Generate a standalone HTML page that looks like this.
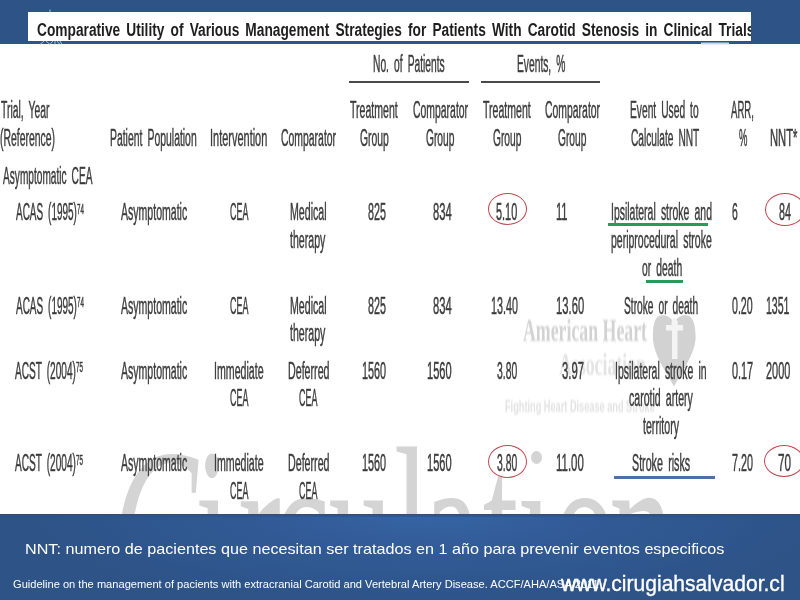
<!DOCTYPE html>
<html><head><meta charset="utf-8"><style>
html,body{margin:0;padding:0}
body{width:800px;height:600px;position:relative;overflow:hidden;background:#fff;font-family:"Liberation Sans",sans-serif}
.t{position:absolute;white-space:nowrap;line-height:1;color:#3c3c3c;transform-origin:0 0}
sup{font-size:0.62em;vertical-align:0;position:relative;top:-0.46em;margin-left:0.03em}
#topband{position:absolute;left:0;top:0;width:800px;height:44px;background:#2d5387}
#titlebox{position:absolute;left:28px;top:12px;width:723px;height:29px;background:#fff;overflow:hidden}
#title{position:absolute;white-space:nowrap;line-height:1;font-weight:bold;color:#1e1e1e;transform-origin:0 0}
.hl{position:absolute;height:2px;background:#4a4a4a}
#botband{position:absolute;left:0;top:514px;width:800px;height:86px;background:radial-gradient(ellipse 400px 95px at 430px 0px,#3664a4 0%,#315a95 45%,#2d5387 100%)}
.w{position:absolute;white-space:nowrap;line-height:1;color:#fff;transform-origin:0 0}
.ul{position:absolute;height:3px}
.ell{position:absolute;border:1.3px solid #c4474f;border-radius:50%;box-sizing:border-box}
.wm{position:absolute;white-space:nowrap;line-height:1;transform-origin:0 0}
</style></head><body>
<div class="wm" style="left:112px;top:413px;font-family:'Liberation Serif';font-style:italic;font-size:232px;color:#d4d4d4;transform:scaleX(0.552);filter:blur(0.6px)">C</div>
<div class="wm" style="left:195px;top:413px;font-family:'Liberation Serif';font-size:232px;color:#d4d4d4;transform:scaleX(0.552);filter:blur(0.6px)">i<span style="position:relative;left:14px">r</span>c<span style="position:relative;left:-3px">u</span>l<span style="position:relative;left:-12px">a</span><span style="position:relative;left:-7px">t</span><span style="position:relative;left:-9px">ı</span><span style="position:relative;left:-9px">o</span><span style="position:relative;left:-22px">n</span></div>
<div style="position:absolute;left:531px;top:451px;width:11px;height:13px;border-radius:50%;background:#d4d4d4;filter:blur(0.6px)"></div>
<div class="wm" style="left:523px;top:314px;font-family:'Liberation Serif';font-weight:bold;font-size:32px;color:#d2d2d2;transform:scaleX(0.556);filter:blur(0.8px)">American Heart</div>
<div class="wm" style="left:559px;top:348px;font-family:'Liberation Serif';font-weight:bold;font-size:32px;color:#e3e3e3;transform:scaleX(0.556);filter:blur(0.9px)">Association</div>
<div class="wm" style="left:504.5px;top:398px;font-family:'Liberation Sans';font-weight:bold;font-size:17px;color:#e2e2e2;transform:scaleX(0.541);filter:blur(0.9px)">Fighting Heart Disease and Stroke</div>
<svg style="position:absolute;left:0;top:0;filter:blur(0.5px)" width="800" height="600" viewBox="0 0 800 600">
<path d="M674,323 C671,316.5 664,314 659,316 C654,318.5 652.5,328 653,340 C654,354 664,369 674,386.5 C684,369 694,354 695.5,340 C696,328 694,318.5 689,316 C684,314 677,316.5 674,323 Z" fill="#d2d2d2"/>
<rect x="666" y="325" width="17" height="5.5" fill="#f4f4f4"/>
<rect x="672" y="330" width="5.5" height="29" fill="#f4f4f4"/>
<path d="M674.5,317.5 C671.5,320 671,323 672,325 L677.5,325 C678.5,322.5 677.5,320 674.5,317.5 Z" fill="#f4f4f4"/>
</svg>

<div id="topband"></div>
<div id="titlebox"><div id="title" style="left:8.70px;top:9.30px;font-size:18px;transform:scaleX(0.7631);word-spacing:3px">Comparative Utility of Various Management Strategies for Patients With Carotid Stenosis in Clinical Trials</div></div>
<div class="hl" style="left:349px;top:81px;width:120px"></div>
<div class="hl" style="left:481px;top:81px;width:119px"></div>
<div id="tbl" style="position:absolute;left:0;top:0;width:800px;height:600px;filter:blur(0.35px)">
<div class="t" style="left:373.16px;top:52.99px;font-size:23.3px;transform:scaleX(0.4407);-webkit-text-stroke:0.5px #3c3c3c;word-spacing:5px">No. of Patients</div>
<div class="t" style="left:516.56px;top:52.99px;font-size:23.3px;transform:scaleX(0.4404);-webkit-text-stroke:0.5px #3c3c3c;word-spacing:5px">Events, %</div>
<div class="t" style="left:0.80px;top:99.00px;font-size:23.3px;transform:scaleX(0.4445);-webkit-text-stroke:0.5px #3c3c3c;word-spacing:5px">Trial, Year</div>
<div class="t" style="left:0.00px;top:126.69px;font-size:23.3px;transform:scaleX(0.4472);-webkit-text-stroke:0.5px #3c3c3c;word-spacing:5px">(Reference)</div>
<div class="t" style="left:110.05px;top:126.69px;font-size:23.3px;transform:scaleX(0.4466);-webkit-text-stroke:0.5px #3c3c3c;word-spacing:5px">Patient Population</div>
<div class="t" style="left:210.03px;top:126.69px;font-size:23.3px;transform:scaleX(0.4708);-webkit-text-stroke:0.5px #3c3c3c;word-spacing:5px">Intervention</div>
<div class="t" style="left:280.50px;top:126.69px;font-size:23.3px;transform:scaleX(0.4476);-webkit-text-stroke:0.5px #3c3c3c;word-spacing:5px">Comparator</div>
<div class="t" style="left:350.00px;top:99.00px;font-size:23.3px;transform:scaleX(0.4528);-webkit-text-stroke:0.5px #3c3c3c;word-spacing:5px">Treatment</div>
<div class="t" style="left:360.00px;top:126.69px;font-size:23.3px;transform:scaleX(0.4462);-webkit-text-stroke:0.5px #3c3c3c;word-spacing:5px">Group</div>
<div class="t" style="left:412.50px;top:99.00px;font-size:23.3px;transform:scaleX(0.4476);-webkit-text-stroke:0.5px #3c3c3c;word-spacing:5px">Comparator</div>
<div class="t" style="left:426.00px;top:126.69px;font-size:23.3px;transform:scaleX(0.4385);-webkit-text-stroke:0.5px #3c3c3c;word-spacing:5px">Group</div>
<div class="t" style="left:482.50px;top:99.00px;font-size:23.3px;transform:scaleX(0.4528);-webkit-text-stroke:0.5px #3c3c3c;word-spacing:5px">Treatment</div>
<div class="t" style="left:492.50px;top:126.69px;font-size:23.3px;transform:scaleX(0.4385);-webkit-text-stroke:0.5px #3c3c3c;word-spacing:5px">Group</div>
<div class="t" style="left:544.50px;top:99.00px;font-size:23.3px;transform:scaleX(0.4476);-webkit-text-stroke:0.5px #3c3c3c;word-spacing:5px">Comparator</div>
<div class="t" style="left:558.00px;top:126.69px;font-size:23.3px;transform:scaleX(0.4385);-webkit-text-stroke:0.5px #3c3c3c;word-spacing:5px">Group</div>
<div class="t" style="left:630.06px;top:99.00px;font-size:23.3px;transform:scaleX(0.4391);-webkit-text-stroke:0.5px #3c3c3c;word-spacing:5px">Event Used to</div>
<div class="t" style="left:630.50px;top:126.69px;font-size:23.3px;transform:scaleX(0.4363);-webkit-text-stroke:0.5px #3c3c3c;word-spacing:5px">Calculate NNT</div>
<div class="t" style="left:731.41px;top:99.00px;font-size:23.3px;transform:scaleX(0.4107);-webkit-text-stroke:0.5px #3c3c3c;word-spacing:5px">ARR,</div>
<div class="t" style="left:739.00px;top:126.69px;font-size:23.3px;transform:scaleX(0.4048);-webkit-text-stroke:0.5px #3c3c3c;word-spacing:5px">%</div>
<div class="t" style="left:770.02px;top:126.69px;font-size:23.3px;transform:scaleX(0.4821);-webkit-text-stroke:0.5px #3c3c3c;word-spacing:5px">NNT*</div>
<div class="t" style="left:2.93px;top:164.69px;font-size:23.3px;transform:scaleX(0.4348);-webkit-text-stroke:0.5px #3c3c3c;word-spacing:5px">Asymptomatic CEA</div>
<div class="t" style="left:15.93px;top:201.19px;font-size:23.3px;transform:scaleX(0.4281);-webkit-text-stroke:0.5px #3c3c3c;word-spacing:5px">ACAS (1995)<sup>74</sup></div>
<div class="t" style="left:121.45px;top:201.19px;font-size:23.3px;transform:scaleX(0.4527);-webkit-text-stroke:0.5px #3c3c3c;word-spacing:5px">Asymptomatic</div>
<div class="t" style="left:230.00px;top:201.19px;font-size:23.3px;transform:scaleX(0.3827);-webkit-text-stroke:0.5px #3c3c3c;word-spacing:5px">CEA</div>
<div class="t" style="left:289.54px;top:201.19px;font-size:23.3px;transform:scaleX(0.4557);-webkit-text-stroke:0.5px #3c3c3c;word-spacing:5px">Medical</div>
<div class="t" style="left:290.00px;top:228.89px;font-size:23.3px;transform:scaleX(0.4551);-webkit-text-stroke:0.5px #3c3c3c;word-spacing:5px">therapy</div>
<div class="t" style="left:367.50px;top:201.19px;font-size:23.3px;transform:scaleX(0.4615);-webkit-text-stroke:0.5px #3c3c3c;word-spacing:5px">825</div>
<div class="t" style="left:432.50px;top:201.19px;font-size:23.3px;transform:scaleX(0.4808);-webkit-text-stroke:0.5px #3c3c3c;word-spacing:5px">834</div>
<div class="t" style="left:496.00px;top:201.19px;font-size:23.3px;transform:scaleX(0.4674);-webkit-text-stroke:0.5px #3c3c3c;word-spacing:5px">5.10</div>
<div class="t" style="left:555.52px;top:201.19px;font-size:23.3px;transform:scaleX(0.4783);-webkit-text-stroke:0.5px #3c3c3c;word-spacing:5px">11</div>
<div class="t" style="left:610.75px;top:201.19px;font-size:23.3px;transform:scaleX(0.4487);-webkit-text-stroke:0.5px #3c3c3c;word-spacing:5px">Ipsilateral stroke and</div>
<div class="t" style="left:611.20px;top:228.89px;font-size:23.3px;transform:scaleX(0.4500);-webkit-text-stroke:0.5px #3c3c3c;word-spacing:5px">periprocedural stroke</div>
<div class="t" style="left:641.70px;top:256.59px;font-size:23.3px;transform:scaleX(0.4444);-webkit-text-stroke:0.5px #3c3c3c;word-spacing:5px">or death</div>
<div class="t" style="left:731.70px;top:201.19px;font-size:23.3px;transform:scaleX(0.4462);-webkit-text-stroke:0.5px #3c3c3c;word-spacing:5px">6</div>
<div class="t" style="left:779.00px;top:201.19px;font-size:23.3px;transform:scaleX(0.4615);-webkit-text-stroke:0.5px #3c3c3c;word-spacing:5px">84</div>
<div class="t" style="left:15.93px;top:294.69px;font-size:23.3px;transform:scaleX(0.4281);-webkit-text-stroke:0.5px #3c3c3c;word-spacing:5px">ACAS (1995)<sup>74</sup></div>
<div class="t" style="left:121.45px;top:294.69px;font-size:23.3px;transform:scaleX(0.4527);-webkit-text-stroke:0.5px #3c3c3c;word-spacing:5px">Asymptomatic</div>
<div class="t" style="left:230.00px;top:294.69px;font-size:23.3px;transform:scaleX(0.3827);-webkit-text-stroke:0.5px #3c3c3c;word-spacing:5px">CEA</div>
<div class="t" style="left:289.54px;top:294.69px;font-size:23.3px;transform:scaleX(0.4557);-webkit-text-stroke:0.5px #3c3c3c;word-spacing:5px">Medical</div>
<div class="t" style="left:290.00px;top:322.39px;font-size:23.3px;transform:scaleX(0.4551);-webkit-text-stroke:0.5px #3c3c3c;word-spacing:5px">therapy</div>
<div class="t" style="left:367.50px;top:294.69px;font-size:23.3px;transform:scaleX(0.4615);-webkit-text-stroke:0.5px #3c3c3c;word-spacing:5px">825</div>
<div class="t" style="left:432.50px;top:294.69px;font-size:23.3px;transform:scaleX(0.4808);-webkit-text-stroke:0.5px #3c3c3c;word-spacing:5px">834</div>
<div class="t" style="left:490.79px;top:294.69px;font-size:23.3px;transform:scaleX(0.4605);-webkit-text-stroke:0.5px #3c3c3c;word-spacing:5px">13.40</div>
<div class="t" style="left:555.77px;top:294.69px;font-size:23.3px;transform:scaleX(0.4825);-webkit-text-stroke:0.5px #3c3c3c;word-spacing:5px">13.60</div>
<div class="t" style="left:624.00px;top:294.69px;font-size:23.3px;transform:scaleX(0.4379);-webkit-text-stroke:0.5px #3c3c3c;word-spacing:5px">Stroke or death</div>
<div class="t" style="left:731.70px;top:294.69px;font-size:23.3px;transform:scaleX(0.4565);-webkit-text-stroke:0.5px #3c3c3c;word-spacing:5px">0.20</div>
<div class="t" style="left:765.95px;top:294.69px;font-size:23.3px;transform:scaleX(0.4529);-webkit-text-stroke:0.5px #3c3c3c;word-spacing:5px">1351</div>
<div class="t" style="left:15.43px;top:359.69px;font-size:23.3px;transform:scaleX(0.4335);-webkit-text-stroke:0.5px #3c3c3c;word-spacing:5px">ACST (2004)<sup>75</sup></div>
<div class="t" style="left:121.45px;top:359.69px;font-size:23.3px;transform:scaleX(0.4527);-webkit-text-stroke:0.5px #3c3c3c;word-spacing:5px">Asymptomatic</div>
<div class="t" style="left:214.04px;top:359.69px;font-size:23.3px;transform:scaleX(0.4560);-webkit-text-stroke:0.5px #3c3c3c;word-spacing:5px">Immediate</div>
<div class="t" style="left:230.00px;top:387.39px;font-size:23.3px;transform:scaleX(0.3827);-webkit-text-stroke:0.5px #3c3c3c;word-spacing:5px">CEA</div>
<div class="t" style="left:287.54px;top:359.69px;font-size:23.3px;transform:scaleX(0.4579);-webkit-text-stroke:0.5px #3c3c3c;word-spacing:5px">Deferred</div>
<div class="t" style="left:298.75px;top:387.39px;font-size:23.3px;transform:scaleX(0.3827);-webkit-text-stroke:0.5px #3c3c3c;word-spacing:5px">CEA</div>
<div class="t" style="left:362.03px;top:359.69px;font-size:23.3px;transform:scaleX(0.4657);-webkit-text-stroke:0.5px #3c3c3c;word-spacing:5px">1560</div>
<div class="t" style="left:426.52px;top:359.69px;font-size:23.3px;transform:scaleX(0.4755);-webkit-text-stroke:0.5px #3c3c3c;word-spacing:5px">1560</div>
<div class="t" style="left:497.00px;top:359.69px;font-size:23.3px;transform:scaleX(0.4457);-webkit-text-stroke:0.5px #3c3c3c;word-spacing:5px">3.80</div>
<div class="t" style="left:562.00px;top:359.69px;font-size:23.3px;transform:scaleX(0.4833);-webkit-text-stroke:0.5px #3c3c3c;word-spacing:5px">3.97</div>
<div class="t" style="left:615.25px;top:359.69px;font-size:23.3px;transform:scaleX(0.4488);-webkit-text-stroke:0.5px #3c3c3c;word-spacing:5px">Ipsilateral stroke in</div>
<div class="t" style="left:629.40px;top:387.39px;font-size:23.3px;transform:scaleX(0.4528);-webkit-text-stroke:0.5px #3c3c3c;word-spacing:5px">carotid artery</div>
<div class="t" style="left:642.50px;top:415.09px;font-size:23.3px;transform:scaleX(0.4562);-webkit-text-stroke:0.5px #3c3c3c;word-spacing:5px">territory</div>
<div class="t" style="left:731.70px;top:359.69px;font-size:23.3px;transform:scaleX(0.4667);-webkit-text-stroke:0.5px #3c3c3c;word-spacing:5px">0.17</div>
<div class="t" style="left:766.40px;top:359.69px;font-size:23.3px;transform:scaleX(0.4692);-webkit-text-stroke:0.5px #3c3c3c;word-spacing:5px">2000</div>
<div class="t" style="left:15.43px;top:452.19px;font-size:23.3px;transform:scaleX(0.4335);-webkit-text-stroke:0.5px #3c3c3c;word-spacing:5px">ACST (2004)<sup>75</sup></div>
<div class="t" style="left:121.45px;top:452.19px;font-size:23.3px;transform:scaleX(0.4527);-webkit-text-stroke:0.5px #3c3c3c;word-spacing:5px">Asymptomatic</div>
<div class="t" style="left:214.04px;top:452.19px;font-size:23.3px;transform:scaleX(0.4560);-webkit-text-stroke:0.5px #3c3c3c;word-spacing:5px">Immediate</div>
<div class="t" style="left:230.00px;top:479.89px;font-size:23.3px;transform:scaleX(0.3827);-webkit-text-stroke:0.5px #3c3c3c;word-spacing:5px">CEA</div>
<div class="t" style="left:287.54px;top:452.19px;font-size:23.3px;transform:scaleX(0.4579);-webkit-text-stroke:0.5px #3c3c3c;word-spacing:5px">Deferred</div>
<div class="t" style="left:298.75px;top:479.89px;font-size:23.3px;transform:scaleX(0.3827);-webkit-text-stroke:0.5px #3c3c3c;word-spacing:5px">CEA</div>
<div class="t" style="left:362.03px;top:452.19px;font-size:23.3px;transform:scaleX(0.4657);-webkit-text-stroke:0.5px #3c3c3c;word-spacing:5px">1560</div>
<div class="t" style="left:426.52px;top:452.19px;font-size:23.3px;transform:scaleX(0.4755);-webkit-text-stroke:0.5px #3c3c3c;word-spacing:5px">1560</div>
<div class="t" style="left:497.00px;top:452.19px;font-size:23.3px;transform:scaleX(0.4457);-webkit-text-stroke:0.5px #3c3c3c;word-spacing:5px">3.80</div>
<div class="t" style="left:555.76px;top:452.19px;font-size:23.3px;transform:scaleX(0.4911);-webkit-text-stroke:0.5px #3c3c3c;word-spacing:5px">11.00</div>
<div class="t" style="left:632.00px;top:452.19px;font-size:23.3px;transform:scaleX(0.4591);-webkit-text-stroke:0.5px #3c3c3c;word-spacing:5px">Stroke risks</div>
<div class="t" style="left:731.70px;top:452.19px;font-size:23.3px;transform:scaleX(0.4630);-webkit-text-stroke:0.5px #3c3c3c;word-spacing:5px">7.20</div>
<div class="t" style="left:777.70px;top:452.19px;font-size:23.3px;transform:scaleX(0.5038);-webkit-text-stroke:0.5px #3c3c3c;word-spacing:5px">70</div>
</div>
<div class="ul" style="left:608px;top:223px;width:100px;background:#2a9a5c"></div>
<div class="ul" style="left:646px;top:280px;width:37px;background:#2a9a5c"></div>
<div class="ul" style="left:614px;top:476px;width:101px;background:#4a72a8"></div>
<div class="ell" style="left:487.5px;top:192.8px;width:39.5px;height:32.2px"></div>
<div class="ell" style="left:764.5px;top:192.5px;width:40px;height:33px"></div>
<div class="ell" style="left:487.5px;top:444.5px;width:39px;height:33px"></div>
<div class="ell" style="left:764px;top:445px;width:40px;height:32px"></div>
<div id="botband"></div>
<div style="position:absolute;left:0;top:514px;width:800px;height:1px;background:#3a4d6e"></div>
<div style="position:absolute;left:0;top:515px;width:800px;height:2px;background:#28508e;opacity:0.6"></div>
<div class="w" style="left:25.30px;top:540.55px;font-size:15px;transform:scaleX(1.0781)">NNT: numero de pacientes que necesitan ser tratados en 1 año para prevenir eventos especificos</div>
<div class="w" style="left:12.70px;top:578.88px;font-size:10.5px;transform:scaleX(1.0565)">Guideline on the management of pacients with extracranial Carotid and Vertebral Artery Disease. ACCF/AHA/ASA/2011</div>
<div class="w" style="left:560.96px;top:573.30px;font-size:22px;transform:scaleX(0.9573);-webkit-text-stroke:0.35px #ffffff">www.cirugiahsalvador.cl</div>
<svg style="position:absolute;left:0;top:0" width="800" height="50" viewBox="0 0 800 50">
<rect x="701" y="42.5" width="28" height="2" fill="#c9d7ea"/>
<g stroke="#b8cce6" stroke-width="0.9" fill="none">
<path d="M40,44.5 L44,41 M46,41 L50,44.5 M50,44.5 L53,41 M55,41 L55,44.5 M57,41 L60,44.5 M60,41 L62,44.5"/>
<path d="M50,12 L50,9.5"/>
</g>
</svg>

</body></html>
